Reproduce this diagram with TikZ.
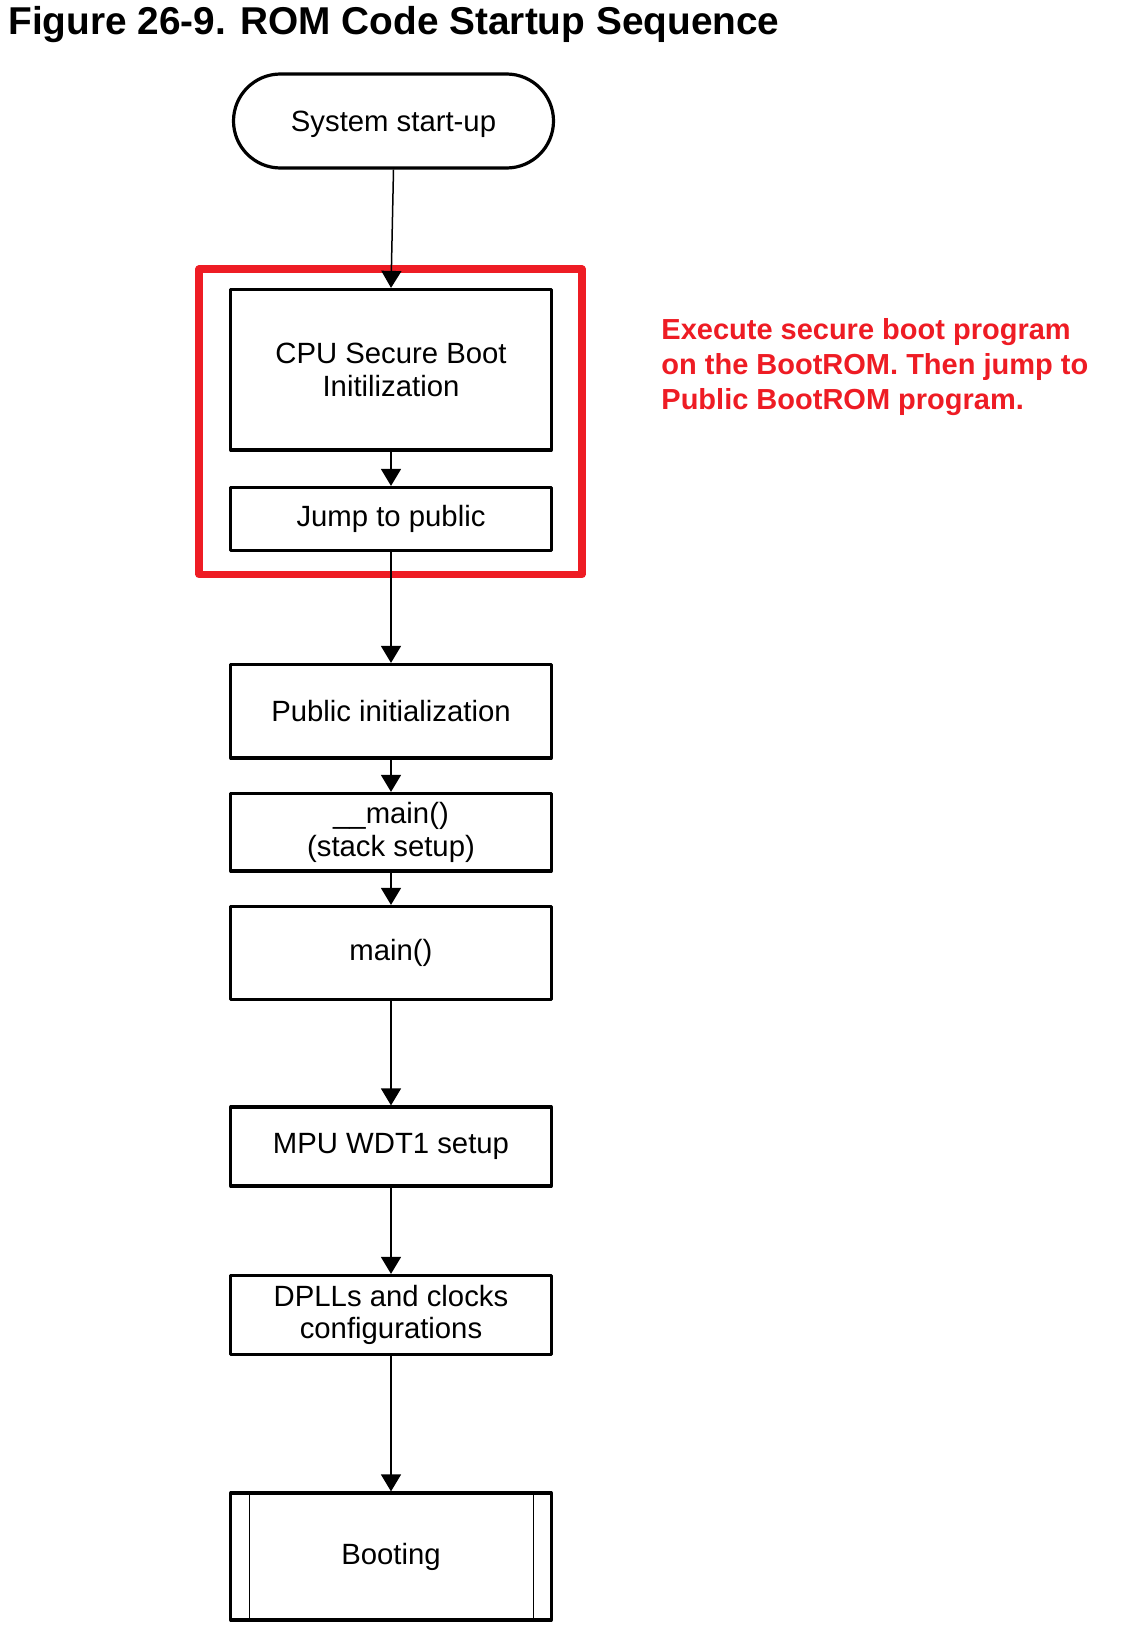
\documentclass[tikz,border=0pt]{standalone}
\usepackage{fontspec}
\setmainfont{Liberation Sans}
\usetikzlibrary{arrows.meta}
\definecolor{rred}{RGB}{238,28,36}
\newcommand{\titlefont}{\fontsize{19.4pt}{23pt}\selectfont\bfseries}
\newcommand{\boxfont}{\fontsize{14.65pt}{16.2pt}\selectfont}
\newcommand{\notefont}{\fontsize{14.5pt}{17.5pt}\selectfont\bfseries}
\begin{document}
\begin{tikzpicture}[x=0.5pt,y=-0.5pt,
  box/.style={draw, line width=1.6pt, line join=round, minimum width=160.25pt,
    inner sep=0pt, align=center, font=\boxfont},
  flow/.style={line width=0.75pt, -{Triangle[width=10pt,length=8.5pt]}},
  inner/.style={line width=0.8pt}
]
\useasboundingbox (0,0) rectangle (1126,1632);

\node[font=\titlefont, anchor=base west, inner sep=0pt] (title) at (8,35)
  {Figure 26-9. ROM Code Startup Sequence};

\node[draw, line width=1.6pt, rounded corners=23.5pt, minimum width=160pt,
  minimum height=47pt, inner sep=0pt, text depth=0pt, font=\boxfont]
  (start) at (393.5,121) {System start-up};

\node[draw=rred, line width=3.6pt, line join=round, minimum width=191.5pt,
  minimum height=152.75pt, inner sep=0pt] (secure) at (390.5,421.75) {};

\node[box, minimum height=80.25pt] (cpu) at (391,369.75) {CPU Secure Boot\\Initilization};
\node[box, minimum height=31.5pt] (jump) at (391,519) {Jump to public};
\node[box, minimum height=46.75pt] (pub) at (391,711.25) {Public initialization};
\node[box, minimum height=38.75pt] (smain) at (391,832.25) {\_\_main()\\(stack setup)};
\node[box, minimum height=46.5pt] (main) at (391,953) {main()};
\node[box, minimum height=39.5pt] (mpu) at (391,1146.5) {MPU WDT1 setup};
\node[box, minimum height=39.5pt] (dpll) at (391,1315) {DPLLs and clocks\\configurations};
\node[box, minimum height=63.5pt] (boot) at (391,1556.5) {Booting};
\draw[inner] ([xshift=10.25pt]boot.north west) -- ([xshift=10.25pt]boot.south west);
\draw[inner] ([xshift=-9.75pt]boot.north east) -- ([xshift=-9.75pt]boot.south east);

\node[anchor=north west, inner sep=0pt, align=left, text=rred, font=\notefont]
  (note) at (661,318) {Execute secure boot program\\on the BootROM. Then jump to\\Public BootROM program.};

\draw[flow] (start.south) -- (cpu.north);
\draw[flow] (cpu.south) -- (jump.north);
\draw[flow] (jump.south) -- (pub.north);
\draw[flow] (pub.south) -- (smain.north);
\draw[flow] (smain.south) -- (main.north);
\draw[flow] (main.south) -- (mpu.north);
\draw[flow] (mpu.south) -- (dpll.north);
\draw[flow] (dpll.south) -- (boot.north);
\end{tikzpicture}
\end{document}
